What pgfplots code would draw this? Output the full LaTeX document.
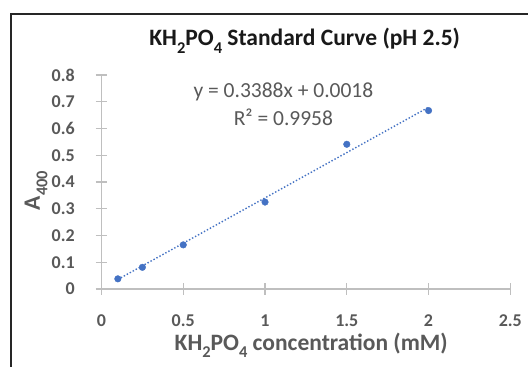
\documentclass[border=0pt]{standalone}
\usepackage{fontspec}
\setmainfont{Carlito}
\usepackage{pgfplots}
\pgfplotsset{compat=1.18}
\definecolor{ptblue}{HTML}{4472C4}
\definecolor{txtgray}{HTML}{595959}
\definecolor{axgray}{HTML}{BFBFBF}
\newcommand{\sub}[1]{\raisebox{-0.32em}{\scalebox{0.7}{#1}}}
\begin{document}
\begin{tikzpicture}
\useasboundingbox (0,0) rectangle (528bp,367bp);
\fill[white] (0,0) rectangle (528bp,367bp);
\draw[line width=1.6bp, black!85] (11bp,-2bp) |- (530bp,353bp);
\begin{axis}[
  at={(101.5bp,78bp)}, anchor=south west,
  scale only axis, width=408.8bp, height=214bp,
  xmin=0, xmax=2.5, ymin=0, ymax=0.8,
  axis lines*=left,
  axis line style={axgray, line width=1.2bp},
  xtick={0,0.5,1,1.5,2,2.5},
  xticklabels={0,0.5,1,1.5,2,2.5},
  ytick={0,0.1,0.2,0.3,0.4,0.5,0.6,0.7,0.8},
  yticklabels={0,0.1,0.2,0.3,0.4,0.5,0.6,0.7,0.8},
  tick align=center, major tick length=11bp,
  tick style={axgray, line width=1.2bp},
  xticklabel style={font=\bfseries\fontsize{18bp}{20bp}\selectfont, text=txtgray, anchor=center, yshift=-26bp},
  yticklabel style={font=\bfseries\fontsize{18bp}{20bp}\selectfont, text=txtgray, anchor=east, inner sep=0pt, xshift=-21bp},
  title={KH\sub{2}PO\sub{4} Standard Curve (pH 2.5)},
  title style={at={(axis description cs:0.497,1.131)}, anchor=center, font=\bfseries\fontsize{23.5bp}{26bp}\selectfont, text=black!90},
  xlabel={KH\sub{2}PO\sub{4} concentration (mM)},
  xlabel style={at={(axis description cs:0.513,-0.262)}, anchor=center, font=\bfseries\fontsize{23.5bp}{26bp}\selectfont, text=txtgray},
  ylabel={A\sub{400}},
  ylabel style={at={(axis description cs:-0.160,0.46)}, anchor=center, font=\bfseries\fontsize{23.5bp}{26bp}\selectfont, text=txtgray},
  clip=false,
]
\addplot[ptblue, dotted, line width=1.4bp] coordinates {(0.1,0.0357) (2,0.6794)};
\addplot[only marks, mark=*, mark size=3.3bp, ptblue] coordinates {(0.1,0.038) (0.25,0.081) (0.5,0.165) (1,0.325) (1.5,0.541) (2,0.667)};
\node[font=\fontsize{21.5bp}{24bp}\selectfont, text=txtgray, anchor=center] at (axis description cs:0.445,0.921) {y = 0.3388x + 0.0018};
\node[font=\fontsize{21.5bp}{24bp}\selectfont, text=txtgray, anchor=center] at (axis description cs:0.445,0.804) {R² = 0.9958};
\end{axis}
\end{tikzpicture}
\end{document}
